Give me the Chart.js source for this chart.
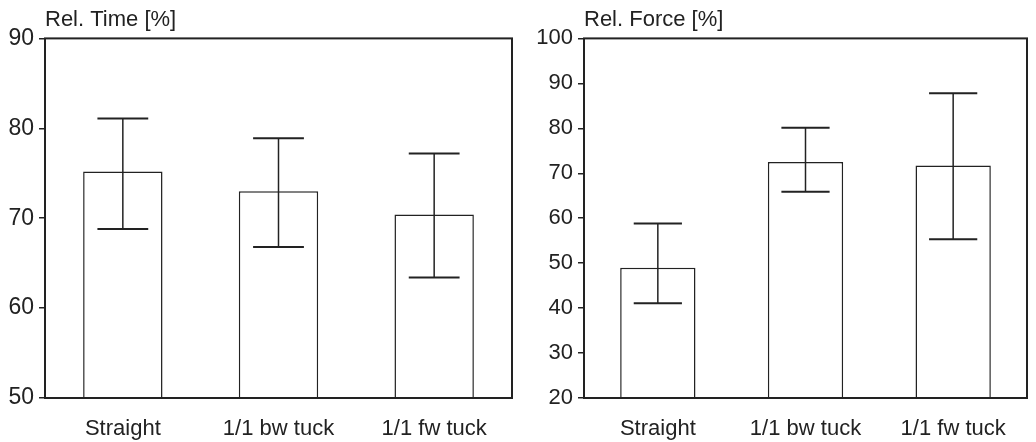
<!DOCTYPE html>
<html>
<head>
<meta charset="utf-8">
<script src="https://cdn.jsdelivr.net/npm/chart.js@4/dist/chart.umd.min.js"></script>
<style>
  html, body { margin: 0; padding: 0; background: #fff; }
  .panel { position: absolute; top: 0; height: 442px; }
  #left { left: 0; width: 520px; }
  #right { left: 520px; width: 516px; }
</style>
</head>
<body>
<div class="panel" id="left"><canvas id="timeChart"></canvas></div>
<div class="panel" id="right"><canvas id="forceChart"></canvas></div>
<script>
// Data
const categories = ['Straight', '1/1 bw tuck', '1/1 fw tuck'];

const timeMean = [75.2, 73.0, 70.4];
const timeLow = [68.8, 66.8, 63.4];
const timeHigh = [81.1, 78.9, 77.2];

const forceMean = [49.0, 72.5, 71.7];
const forceLow = [41.1, 65.9, 55.3];
const forceHigh = [58.8, 80.1, 87.8];

const timeAxis = { min: 50, max: 90, step: 10 };
const forceAxis = { min: 20, max: 100, step: 10 };

const ink = '#222';
const fontFamily = '"Liberation Sans", Arial, sans-serif';

// Error bars: vertical whisker with caps, positioned through the scales
const errorBars = {
  id: 'errorBars',
  afterDatasetsDraw(chart, args, opts) {
    const { ctx } = chart;
    const x = chart.scales.x;
    const y = chart.scales.y;
    const meta = chart.getDatasetMeta(0);
    ctx.save();
    ctx.strokeStyle = ink;
    opts.low.forEach((lo, i) => {
      const cx = x.getPixelForValue(i);
      const half = meta.data[i].width * 0.32;
      const yLo = y.getPixelForValue(lo);
      const yHi = y.getPixelForValue(opts.high[i]);
      ctx.lineWidth = 1.5;
      ctx.beginPath();
      ctx.moveTo(cx, yLo);
      ctx.lineTo(cx, yHi);
      ctx.stroke();
      ctx.lineWidth = 2;
      ctx.beginPath();
      ctx.moveTo(cx - half, yLo);
      ctx.lineTo(cx + half, yLo);
      ctx.moveTo(cx - half, yHi);
      ctx.lineTo(cx + half, yHi);
      ctx.stroke();
    });
    ctx.restore();
  }
};

// Box around the plot area
const frame = {
  id: 'frame',
  afterDraw(chart) {
    const { ctx, chartArea: a } = chart;
    ctx.save();
    ctx.strokeStyle = ink;
    ctx.lineWidth = 2;
    ctx.strokeRect(a.left, a.top, a.right - a.left, a.bottom - a.top);
    ctx.restore();
  }
};

function makeChart(id, title, mean, low, high, axis, yWidth, padRight, tickSize) {
  return new Chart(document.getElementById(id), {
    type: 'bar',
    data: {
      labels: categories,
      datasets: [{
        data: mean,
        backgroundColor: '#fff',
        borderColor: ink,
        borderWidth: 1.5,
        categoryPercentage: 1,
        barPercentage: 0.51
      }]
    },
    options: {
      responsive: true,
      maintainAspectRatio: false,
      animation: false,
      layout: { padding: { left: 0, right: padRight, top: 0, bottom: 0 } },
      plugins: {
        legend: { display: false },
        tooltip: { enabled: false },
        title: {
          display: true,
          text: title,
          align: 'start',
          fullSize: false,
          color: ink,
          font: { family: fontFamily, size: 22, weight: 'normal' },
          padding: { top: 7, bottom: 5 }
        },
        errorBars: { low, high }
      },
      scales: {
        x: {
          grid: { display: false },
          border: { display: false },
          ticks: { color: ink, padding: 10, font: { family: fontFamily, size: 22 } },
          afterFit: s => { s.height = 44; }
        },
        y: {
          min: axis.min,
          max: axis.max,
          grid: { drawOnChartArea: false, tickLength: 6, color: ink, lineWidth: 1.5 },
          border: { display: false },
          ticks: { stepSize: axis.step, color: ink, padding: 5, font: { family: fontFamily, size: tickSize } },
          afterFit: s => { s.width = yWidth; }
        }
      }
    },
    plugins: [errorBars, frame]
  });
}

makeChart('timeChart', 'Rel. Time [%]', timeMean, timeLow, timeHigh, timeAxis, 45, 8, 23);
makeChart('forceChart', 'Rel. Force [%]', forceMean, forceLow, forceHigh, forceAxis, 64, 9, 22);
</script>
</body>
</html>
